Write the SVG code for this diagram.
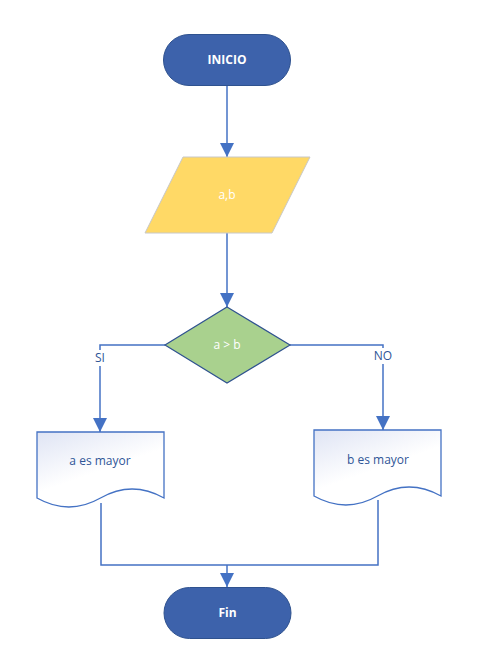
<svg xmlns="http://www.w3.org/2000/svg" width="486" height="672" viewBox="0 0 486 672">
<defs>
<style>
.term{fill:#3d62ab;stroke:#2f528f;stroke-width:1}
.io{fill:#ffd966;stroke:#c8c8c8;stroke-width:1}
.dec{fill:#a9d18e;stroke:#2f528f;stroke-width:1.2}
.doc{fill:url(#docg);stroke:#4472c4;stroke-width:1.3}
.wt{fill:#ffffff;font-family:"Open Sans","Liberation Sans",sans-serif;font-size:12px;text-anchor:middle}
.bt{fill:#2f5597;font-family:"Open Sans","Liberation Sans",sans-serif;font-size:12px;text-anchor:middle}
.con{fill:none;stroke:#4472c4;stroke-width:1.5}
</style>
<linearGradient id="docg" x1="0" y1="0" x2="0.6" y2="1">
<stop offset="0" stop-color="#dfe4f4"/>
<stop offset="0.6" stop-color="#ffffff"/>
</linearGradient>
<marker id="ah" markerUnits="userSpaceOnUse" markerWidth="16" markerHeight="16" viewBox="0 0 16 16" refX="14" refY="8" orient="auto">
<path d="M0,1 L14,8 L0,15 Z" fill="#4472c4"/>
</marker>
</defs>
<g id="connectors">
<path class="con" d="M227,85 V157" marker-end="url(#ah)"/>
<path class="con" d="M227,233 V307" marker-end="url(#ah)"/>
<path class="con" d="M165,345 H100 V350"/>
<path class="con" d="M100,366 V432" marker-end="url(#ah)"/>
<path class="con" d="M290,345 H383 V348"/>
<path class="con" d="M383,364 V430" marker-end="url(#ah)"/>
<path class="con" d="M101,503 V565 H378 V500"/>
<path class="con" d="M227,565 V587" marker-end="url(#ah)"/>
</g>
<g id="inicio">
<rect class="term" x="163.5" y="34.5" width="127" height="51" rx="25.5"/>
<text class="wt" x="227" y="64" font-weight="bold">INICIO</text>
</g>
<g id="entrada">
<polygon class="io" points="183,157 310,157 272,233 145,233"/>
<text class="wt" x="227" y="199">a,b</text>
</g>
<g id="decision">
<polygon class="dec" points="227,307 290,345 227,383 165,345"/>
<text class="wt" x="227" y="349">a &gt; b</text>
</g>
<text class="bt" x="100" y="362">SI</text>
<text class="bt" x="383" y="360">NO</text>
<g id="a_mayor">
<path class="doc" d="M37,432 H164 V498 Q132,480 100.5,498 T37,498 Z"/>
<text class="bt" x="100" y="465">a es mayor</text>
</g>
<g id="b_mayor">
<path class="doc" d="M314,430 H441 V496 Q409,478 377.5,496 T314,496 Z"/>
<text class="bt" x="378" y="464">b es mayor</text>
</g>
<g id="fin">
<rect class="term" x="164" y="587.5" width="127" height="51" rx="25.5"/>
<text class="wt" x="227.5" y="617" font-weight="bold">Fin</text>
</g>
</svg>
